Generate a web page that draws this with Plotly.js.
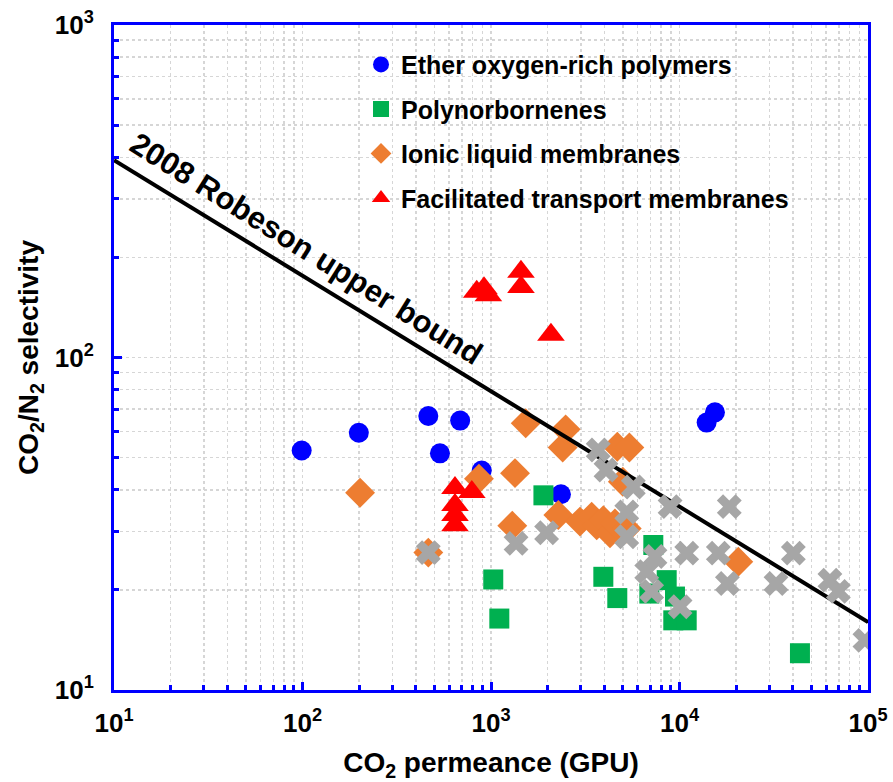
<!DOCTYPE html>
<html>
<head>
<meta charset="utf-8">
<script src="https://cdn.plot.ly/plotly-3.0.1.min.js"></script>
<style>html,body{margin:0;padding:0;background:#fff;}#chart{width:893px;height:782px;}</style>
</head>
<body>
<div id="chart"></div>
<script>
// Ether oxygen-rich polymers
var etherX = [99, 199, 465, 686, 536, 893, 2350, 13930, 15420];
var etherY = [52.5, 59.4, 66.7, 64.6, 51.5, 45.7, 38.8, 63.7, 68.4];
// Polynorbornenes
var polyX = [1897, 1028, 1107, 3944, 4677, 7262, 8551, 6918, 9462, 9270, 10920, 43550];
var polyY = [38.5, 21.5, 16.4, 21.9, 18.9, 27.3, 21.4, 19.5, 19.1, 16.2, 16.2, 12.9];
// Ionic liquid membranes
var ionicX = [202, 465, 863, 1297, 1341, 1528, 2276, 2400, 2489, 2965, 3420, 3636, 3945, 4278, 4545, 5250, 4677, 5420, 5004, 20510];
var ionicY = [39.2, 25.9, 43.2, 31.2, 44.9, 63.4, 33.6, 53.6, 60.8, 32.1, 33.2, 31.3, 32.4, 29.6, 31.7, 30.6, 53.9, 53.6, 42.3, 24.3];
// Facilitated transport membranes
var facX = [644, 644, 644, 644, 791, 840, 918, 968, 1442, 1442, 2080];
var facY = [40.5, 36.0, 33.6, 31.3, 39.4, 157.8, 161.5, 154, 181, 163, 117];
// Other membranes (grey crosses, no legend)
var othX = [465, 1358, 1972, 3704, 4074, 5690, 5250, 5250, 8913, 18370, 7413, 6700, 7116, 10070, 10920, 16070, 17950, 32510, 40180, 62800, 69640, 96300];
var othY = [25.9, 27.6, 29.7, 52.7, 45.9, 40.8, 34.3, 28.9, 35.6, 35.6, 25.2, 22.7, 19.8, 17.8, 25.8, 25.8, 20.9, 20.9, 25.8, 21.4, 19.8, 14.1];
// 2008 Robeson upper bound
var robX = [10, 100000];
var robY = [392, 16];
// tick labels
var xTickVals = [10, 100, 1000, 10000, 100000];
var xTickText = ['<b>10<sup>1</sup></b>', '<b>10<sup>2</sup></b>', '<b>10<sup>3</sup></b>', '<b>10<sup>4</sup></b>', '<b>10<sup>5</sup></b>'];
var yTickVals = [10, 100, 1000];
var yTickText = ['<b>10<sup>1</sup></b>', '<b>10<sup>2</sup></b>', '<b>10<sup>3</sup></b>'];

var FONT = 'Liberation Sans, Arial, sans-serif';

var traces = [
  {x: etherX, y: etherY, type: 'scatter', mode: 'markers', name: 'Ether oxygen-rich polymers', legendgroup: 'a',
   marker: {symbol: 'circle', size: 20, color: '#0000ff'}},
  {x: polyX, y: polyY, type: 'scatter', mode: 'markers', name: 'Polynorbornenes', legendgroup: 'b',
   marker: {symbol: 'square', size: 20, color: '#00b050'}},
  {x: ionicX, y: ionicY, type: 'scatter', mode: 'markers', name: 'Ionic liquid membranes', legendgroup: 'c',
   marker: {symbol: 'diamond', size: 23, color: '#ed7d31'}},
  {x: robX, y: robY, type: 'scatter', mode: 'lines', showlegend: false, legendgroup: 'e',
   line: {color: '#000000', width: 4}, hoverinfo: 'skip'},
  {x: facX, y: facY, type: 'scatter', mode: 'markers', name: 'Facilitated transport membranes', legendgroup: 'd',
   marker: {symbol: 'triangle-up', size: 24, color: '#ff0000'}},
  {x: othX, y: othY, type: 'scatter', mode: 'markers', showlegend: false, legendgroup: 'f',
   marker: {symbol: 'x', size: 22, color: '#a6a6a6'}}
];

var axisCommon = {
  type: 'log',
  showline: true, linecolor: '#0000ff', linewidth: 3, mirror: true,
  ticks: 'inside', ticklen: 8, tickwidth: 3, tickcolor: '#0000ff',
  showgrid: true, gridcolor: '#d6d6d6', gridwidth: 1.5, griddash: 'dot',
  zeroline: false,
  tickfont: {family: FONT, size: 26, color: '#000', weight: 'bold'},
  minor: {ticks: 'inside', ticklen: 5, tickwidth: 3, tickcolor: '#0000ff', dtick: 'D1',
          showgrid: true, gridcolor: '#d6d6d6', gridwidth: 1.5, griddash: 'dot'}
};

var layout = {
  width: 893, height: 782,
  margin: {l: 114, r: 25, t: 25, b: 92},
  paper_bgcolor: '#fff', plot_bgcolor: '#fff',
  font: {family: FONT, color: '#000'},
  xaxis: Object.assign({}, axisCommon, {
    range: [1, 5], tickvals: xTickVals, ticktext: xTickText, ticklabelstandoff: 8,
    title: {text: '<b>CO<sub>2</sub> permeance (GPU)</b>', font: {family: FONT, size: 28, color: '#000'}, standoff: 18}
  }),
  yaxis: Object.assign({}, axisCommon, {
    range: [1, 3], tickvals: yTickVals, ticktext: yTickText, ticklabelstandoff: 12,
    title: {text: '<b>CO<sub>2</sub>/N<sub>2</sub> selectivity</b>', font: {family: FONT, size: 28, color: '#000'}, standoff: 8}
  }),
  legend: {
    x: 0.3276, y: 0.975, xanchor: 'left', yanchor: 'top',
    bgcolor: 'rgba(0,0,0,0)', borderwidth: 0,
    font: {family: FONT, size: 25, color: '#000', weight: 'bold'},
    traceorder: 'grouped', tracegroupgap: 9, itemsizing: 'trace'
  },
  annotations: [{
    xref: 'x', yref: 'y', x: Math.log10(104), y: Math.log10(212),
    text: '<b>2008 Robeson upper bound</b>', showarrow: false, textangle: 32,
    font: {family: FONT, size: 31, color: '#000'}
  }],
  showlegend: true
};

Plotly.newPlot('chart', traces, layout, {displayModeBar: false, staticPlot: true});
</script>
</body>
</html>
